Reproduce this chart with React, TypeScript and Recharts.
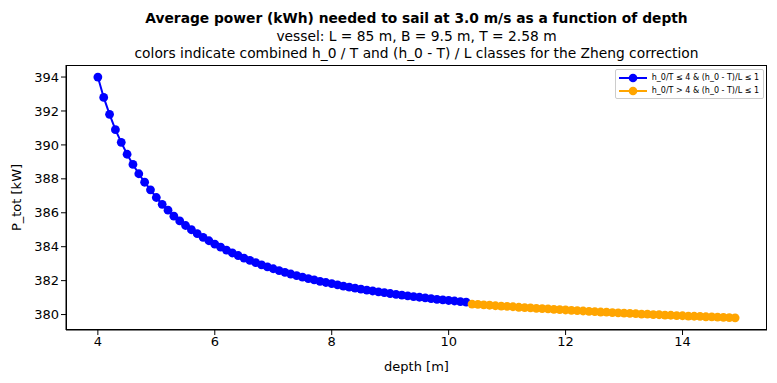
import React from "react";
import { LineChart, Line, XAxis, YAxis } from "recharts";

// depth [m] per 0.1 m, split by Zheng correction class
const blueDepths = [
  4.0, 4.1, 4.2, 4.3, 4.4, 4.5, 4.6, 4.7, 4.8, 4.9,
  5.0, 5.1, 5.2, 5.3, 5.4, 5.5, 5.6, 5.7, 5.8, 5.9,
  6.0, 6.1, 6.2, 6.3, 6.4, 6.5, 6.6, 6.7, 6.8, 6.9,
  7.0, 7.1, 7.2, 7.3, 7.4, 7.5, 7.6, 7.7, 7.8, 7.9,
  8.0, 8.1, 8.2, 8.3, 8.4, 8.5, 8.6, 8.7, 8.8, 8.9,
  9.0, 9.1, 9.2, 9.3, 9.4, 9.5, 9.6, 9.7, 9.8, 9.9,
  10.0, 10.1, 10.2, 10.3,
];
const bluePower = [
  394.0, 392.8, 391.8, 390.9, 390.15, 389.45, 388.85, 388.3, 387.8, 387.35,
  386.9, 386.5, 386.15, 385.8, 385.52, 385.25, 385.0, 384.77, 384.55, 384.35,
  384.15, 383.97, 383.8, 383.63, 383.48, 383.33, 383.19, 383.06, 382.93, 382.81,
  382.7, 382.59, 382.49, 382.39, 382.3, 382.21, 382.12, 382.04, 381.96, 381.89,
  381.82, 381.75, 381.68, 381.62, 381.56, 381.5, 381.44, 381.39, 381.34, 381.29,
  381.24, 381.19, 381.15, 381.1, 381.06, 381.02, 380.98, 380.94, 380.9, 380.87,
  380.83, 380.8, 380.76, 380.73,
];
const orangeDepths = [
  10.4, 10.5, 10.6, 10.7, 10.8, 10.9,
  11.0, 11.1, 11.2, 11.3, 11.4, 11.5, 11.6, 11.7, 11.8, 11.9,
  12.0, 12.1, 12.2, 12.3, 12.4, 12.5, 12.6, 12.7, 12.8, 12.9,
  13.0, 13.1, 13.2, 13.3, 13.4, 13.5, 13.6, 13.7, 13.8, 13.9,
  14.0, 14.1, 14.2, 14.3, 14.4, 14.5, 14.6, 14.7, 14.8, 14.9,
];
const orangePower = [
  380.62, 380.6, 380.57, 380.55, 380.52, 380.5,
  380.48, 380.46, 380.43, 380.41, 380.39, 380.37, 380.35, 380.33, 380.31, 380.29,
  380.27, 380.25, 380.23, 380.21, 380.19, 380.17, 380.15, 380.14, 380.12, 380.1,
  380.08, 380.07, 380.05, 380.03, 380.02, 380.0, 379.99, 379.97, 379.96, 379.94,
  379.93, 379.91, 379.9, 379.89, 379.87, 379.86, 379.85, 379.83, 379.82, 379.81,
];

const xTicks = [4, 6, 8, 10, 12, 14];
const yTicks = [380, 382, 384, 386, 388, 390, 392, 394];

const BLUE = "#0000ff";
const ORANGE = "#ffa500";
const FONT = "'DejaVu Sans', sans-serif";

const blueData = blueDepths.map((d, i) => ({ depth: d, p: bluePower[i] }));
const orangeData = orangeDepths.map((d, i) => ({ depth: d, p: orangePower[i] }));

const W = 777;
const H = 383;
const PLOT = { left: 66, right: 767, top: 65, bottom: 330 };

function LegendRow({ color, label }: { color: string; label: string }) {
  return (
    <div style={{ display: "flex", alignItems: "center", height: 13 }}>
      <svg width={30} height={10} style={{ flexShrink: 0 }}>
        <line x1={1} y1={5} x2={29} y2={5} stroke={color} strokeWidth={2} />
        <circle cx={15} cy={5} r={4.3} fill={color} />
      </svg>
      <span style={{ fontSize: 8, marginLeft: 4, color: "#000", whiteSpace: "nowrap" }}>{label}</span>
    </div>
  );
}

export default function App() {
  const dot = (c: string) => ({ r: 4.4, fill: c, stroke: c, strokeWidth: 0 });
  return (
    <div style={{ position: "relative", width: W, height: H, background: "#fff", fontFamily: FONT }}>
      <style>{`body{margin:0}`}</style>
      <div style={{ position: "absolute", left: PLOT.left - 40, width: PLOT.right - PLOT.left + 80, top: 10, textAlign: "center", color: "#000", lineHeight: "17.5px" }}>
        <div style={{ fontSize: 13.8, fontWeight: "bold" }}>Average power (kWh) needed to sail at 3.0 m/s as a function of depth</div>
        <div style={{ fontSize: 13.8 }}>vessel: L = 85 m, B = 9.5 m, T = 2.58 m</div>
        <div style={{ fontSize: 13.8 }}>colors indicate combined h_0 / T and (h_0 - T) / L classes for the Zheng correction</div>
      </div>
      <LineChart
        width={W}
        height={H}
        margin={{ top: PLOT.top, right: W - PLOT.right, left: 20, bottom: H - PLOT.bottom - 30 }}
      >
        <XAxis
          type="number"
          dataKey="depth"
          domain={[3.455, 15.445]}
          ticks={xTicks}
          allowDataOverflow
          height={30}
          tickSize={5}
          stroke="#000"
          tick={{ fill: "#000", fontSize: 13, fontFamily: FONT }}
          label={{ value: "depth [m]", position: "insideBottom", offset: -11, fill: "#000", fontSize: 13, fontFamily: FONT }}
        />
        <YAxis
          type="number"
          dataKey="p"
          domain={[379.09, 394.71]}
          ticks={yTicks}
          allowDataOverflow
          width={46}
          tickSize={5}
          stroke="#000"
          tick={{ fill: "#000", fontSize: 13, fontFamily: FONT }}
          label={{ value: "P_tot [kW]", angle: -90, position: "insideLeft", offset: -4, fill: "#000", fontSize: 13, fontFamily: FONT, style: { textAnchor: "middle" } }}
        />
        <Line
          data={blueData}
          dataKey="p"
          stroke={BLUE}
          strokeWidth={2}
          dot={dot(BLUE)}
          activeDot={false}
          isAnimationActive={false}
        />
        <Line
          data={orangeData}
          dataKey="p"
          stroke={ORANGE}
          strokeWidth={2}
          dot={dot(ORANGE)}
          activeDot={false}
          isAnimationActive={false}
        />
      </LineChart>
      <div
        style={{
          position: "absolute",
          left: PLOT.left,
          top: PLOT.top,
          width: PLOT.right - PLOT.left,
          height: PLOT.bottom - PLOT.top,
          border: "1px solid #000",
          boxSizing: "border-box",
          pointerEvents: "none",
        }}
      />
      <div
        style={{
          position: "absolute",
          right: W - PLOT.right + 3,
          top: PLOT.top + 4,
          border: "1px solid #ccc",
          borderRadius: 2,
          background: "rgba(255,255,255,0.8)",
          padding: "1px 4px 1px 2px",
        }}
      >
        <LegendRow color={BLUE} label="h_0/T ≤ 4 & (h_0 - T)/L ≤ 1" />
        <LegendRow color={ORANGE} label="h_0/T > 4 & (h_0 - T)/L ≤ 1" />
      </div>
    </div>
  );
}
